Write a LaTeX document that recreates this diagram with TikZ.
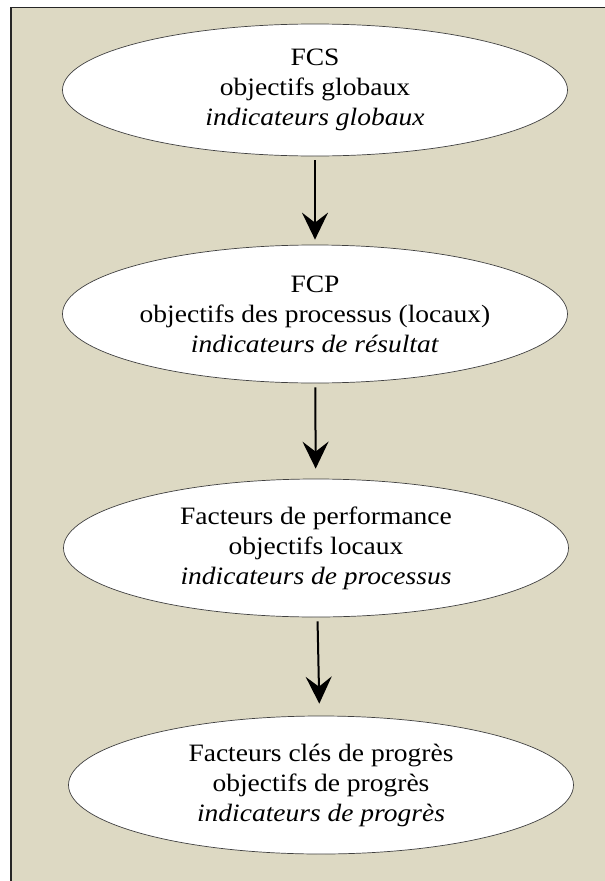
\documentclass[tikz,border=0pt]{standalone}
\usepackage{fontspec}
\setmainfont{Liberation Serif}[FakeStretch=1.1]
\usetikzlibrary{shapes, arrows.meta, positioning}
\definecolor{fond}{HTML}{DDD9C3}

\begin{document}
\begin{tikzpicture}[node distance=234pt, auto,
    bulle/.style={ellipse, draw=black!75, line width=0.7pt, fill=white, minimum width=505pt, minimum height=138pt, inner sep=0pt, align=center, font=\fontsize{25}{30}\selectfont},
    fleche/.style={-{Stealth[length=27pt, width=26pt, inset=10pt]}, line width=2pt, shorten <=4pt}]

% Cadre
\useasboundingbox (0,0) rectangle (605pt,-881pt);
\draw[fill=fond, line width=1.2pt, draw=black!85] (11pt,-7.5pt) rectangle (615pt,-890pt);

% Ellipses
\node [bulle, minimum height=132pt] (fcs) at (315pt,-90pt) {FCS \\ objectifs globaux \\ \textit{indicateurs globaux}};
\node [bulle, below of=fcs, node distance=224pt] (fcp) {FCP \\ objectifs des processus (locaux) \\ \textit{indicateurs de résultat}};
\node [bulle, below of=fcp, xshift=1pt] (perf) {Facteurs de performance \\ objectifs locaux \\ \textit{indicateurs de processus}};
\node [bulle, below of=perf, node distance=237pt, xshift=5pt] (progres) {Facteurs clés de progrès \\ objectifs de progrès \\ \textit{indicateurs de progrès}};

% Fleches
\draw[fleche, shorten >=5pt] (fcs) -- (fcp);
\draw[fleche, shorten >=10pt] (fcp) -- (perf);
\draw[fleche, shorten >=12pt] (perf) -- (progres);

\end{tikzpicture}
\end{document}
